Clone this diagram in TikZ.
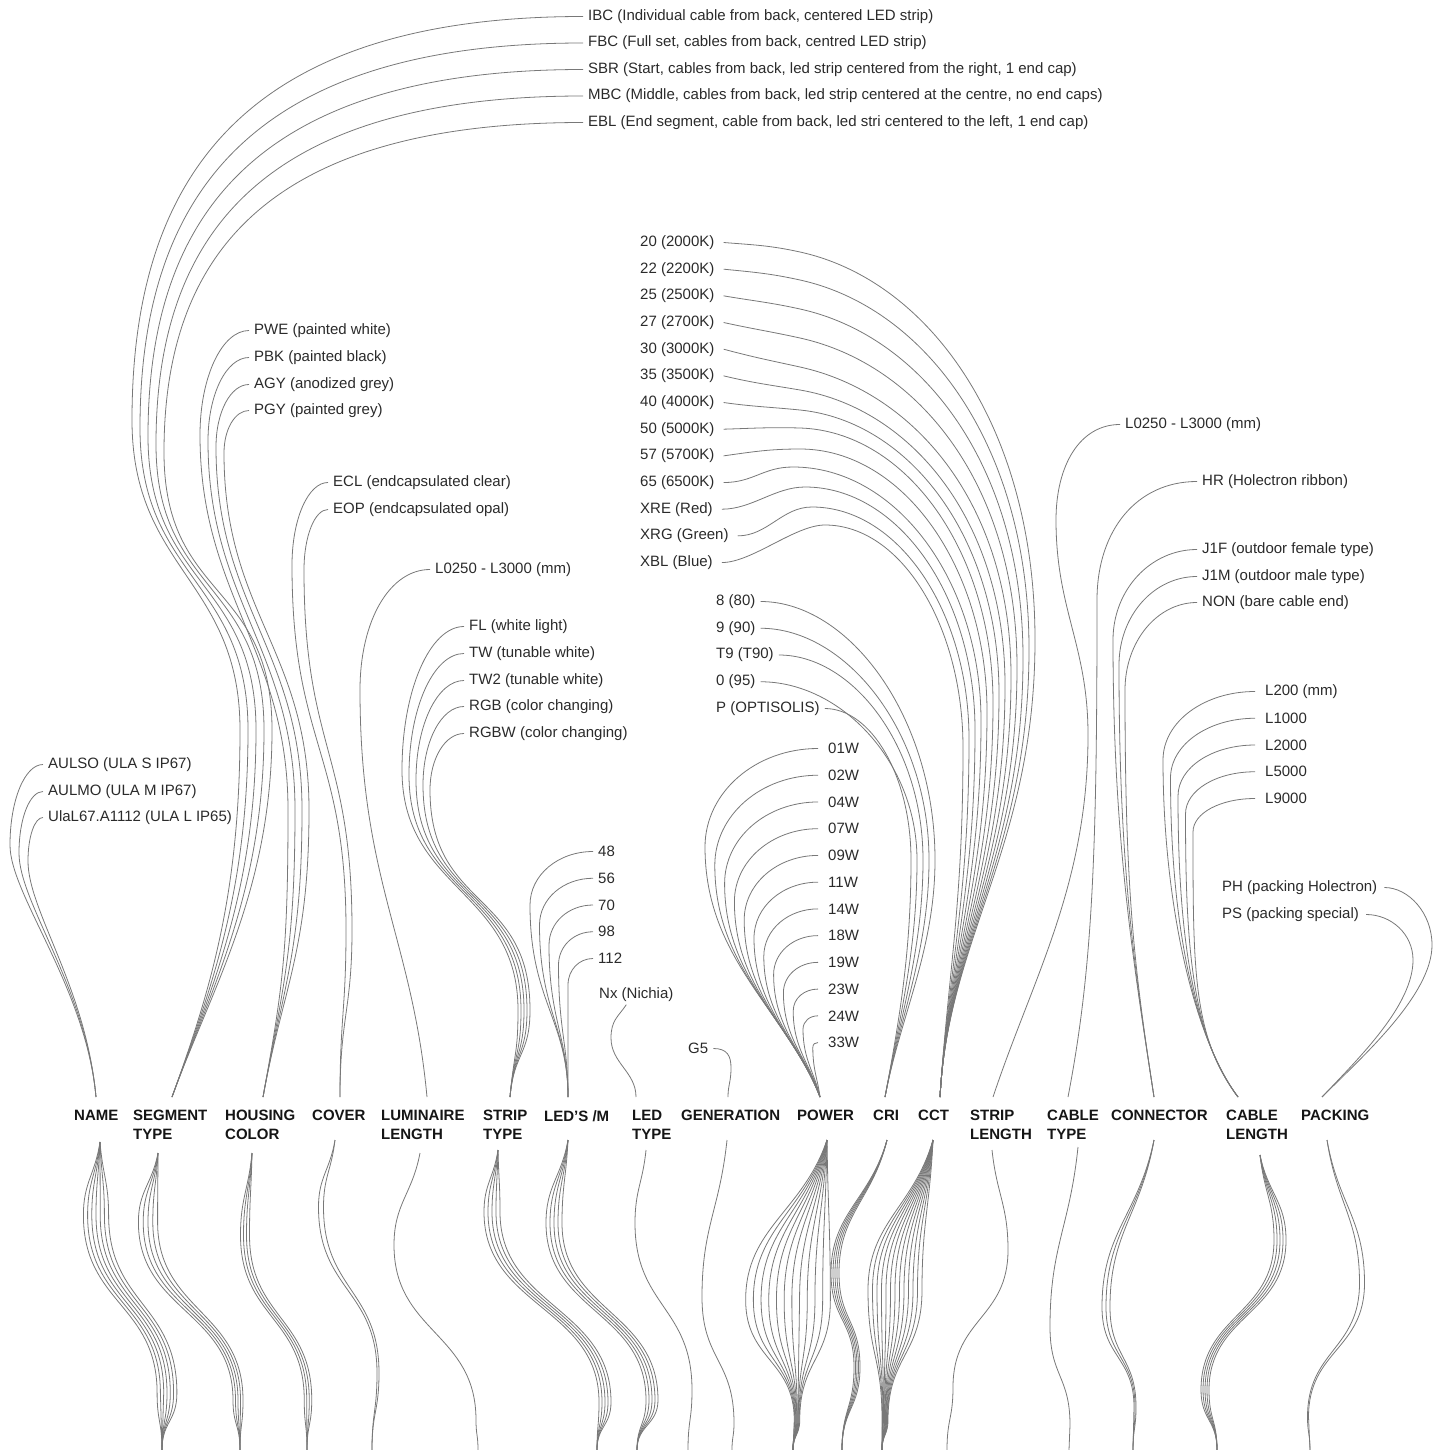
\documentclass[tikz,border=0pt]{standalone}
\usepackage{fontspec}
\setmainfont{Liberation Sans}

\definecolor{wiregray}{HTML}{787878}
\definecolor{labelgray}{HTML}{2A2A2A}
\definecolor{headblack}{HTML}{151515}

\begin{document}
\begin{tikzpicture}[
		x=1pt, y=-1pt,
		wire/.style={draw=wiregray, line width=0.8pt},
		opt/.style={anchor=west, yshift=-1.5pt, inner ysep=3pt, inner xsep=5pt, text=labelgray, font=\fontsize{15}{17}\selectfont},
		head/.style={anchor=north west, inner sep=0pt, align=left, text=headblack, font=\bfseries\fontsize{15}{19}\selectfont}
	]
	\useasboundingbox (0,0) rectangle (1445,1450);

	% column headers
	\node[head] (name) at (74,1110) {NAME};
	\node[head] (seg) at (133,1110) {SEGMENT\\TYPE};
	\node[head] (hou) at (225,1110) {HOUSING\\COLOR};
	\node[head] (cov) at (312,1110) {COVER};
	\node[head] (lum) at (381,1110) {LUMINAIRE\\LENGTH};
	\node[head] (str) at (483,1110) {STRIP\\TYPE};
	\node[head] (led) at (544,1110) {LED’S /M};
	\node[head] (typ) at (632,1110) {LED\\TYPE};
	\node[head] (gen) at (681,1110) {GENERATION};
	\node[head] (pow) at (797,1110) {POWER};
	\node[head] (cri) at (873,1110) {CRI};
	\node[head] (cct) at (918,1110) {CCT};
	\node[head] (slen) at (970,1110) {STRIP\\LENGTH};
	\node[head] (ctyp) at (1047,1110) {CABLE\\TYPE};
	\node[head] (con) at (1111,1110) {CONNECTOR};
	\node[head] (clen) at (1226,1110) {CABLE\\LENGTH};
	\node[head] (pack) at (1301,1110) {PACKING};

	% where the wires meet the headers
	\coordinate (nameIn) at (96,1097);
	\coordinate (segIn) at (172,1097);
	\coordinate (houIn) at (263,1097);
	\coordinate (covIn) at (340,1097);
	\coordinate (lumIn) at (427,1097);
	\coordinate (strIn) at (510,1097);
	\coordinate (ledIn) at (568,1097);
	\coordinate (typIn) at (636,1097);
	\coordinate (genIn) at (728,1097);
	\coordinate (powIn) at (820,1097);
	\coordinate (criIn) at (885,1097);
	\coordinate (cctIn) at (940,1097);
	\coordinate (slenIn) at (993,1097);
	\coordinate (ctypIn) at (1068,1097);
	\coordinate (conIn) at (1154,1097);
	\coordinate (clenIn) at (1238,1097);
	\coordinate (packIn) at (1322,1097);

	% NAME
	\node[opt] (aulso) at (43,763) {AULSO (ULA S IP67)};
	\node[opt] (aulmo) at (43,790) {AULMO (ULA M IP67)};
	\node[opt] (ulal) at (43,816) {UlaL67.A1112 (ULA L IP65)};
	\foreach \n [count=\k from 0] in {aulso,aulmo,ulal} {
		\pgfmathsetmacro\yo{763+26.5*\k}
		\pgfmathsetmacro\xl{10+9*\k}
		\pgfmathsetmacro\yl{845+8*\k}
		\pgfmathsetmacro\ca{-0.55*(43-\xl)}
		\pgfmathsetmacro\cb{-0.55*(\yl-\yo)}
		\draw[wire] (\n.west) .. controls +(\ca,0) and +(0,\cb) .. (\xl,\yl) .. controls +(0,50) and +(-10,-110) .. (nameIn);
	}

	% SEGMENT TYPE
	\node[opt] (ibc) at (583,15) {IBC (Individual cable from back, centered LED strip)};
	\node[opt] (fbc) at (583,41.5) {FBC (Full set, cables from back, centred LED strip)};
	\node[opt] (sbr) at (583,68) {SBR (Start, cables from back, led strip centered from the right, 1 end cap)};
	\node[opt] (mbc) at (583,94.5) {MBC (Middle, cables from back, led strip centered at the centre, no end caps)};
	\node[opt] (ebl) at (583,121) {EBL (End segment, cable from back, led stri centered to the left, 1 end cap)};
	\foreach \n [count=\k from 0] in {ibc,fbc,sbr,mbc,ebl} {
		\pgfmathsetmacro\yo{15+26.5*\k}
		\pgfmathsetmacro\xl{132+8*\k}
		\pgfmathsetmacro\yl{420+8*\k}
		\pgfmathsetmacro\xr{240+8*\k}
		\pgfmathsetmacro\ca{-0.75*(583-\xl)}
		\pgfmathsetmacro\cb{-0.6*(\yl-\yo)}
		\draw[wire] (\n.west) .. controls +(\ca,0) and +(0,\cb) .. (\xl,\yl) .. controls +(0,150) and +(0,-150) .. (\xr,730) .. controls +(0,160) and +(40,-110) .. (segIn);
	}

	% HOUSING COLOR
	\node[opt] (pwe) at (249,329) {PWE (painted white)};
	\node[opt] (pbk) at (249,356) {PBK (painted black)};
	\node[opt] (agy) at (249,383) {AGY (anodized grey)};
	\node[opt] (pgy) at (249,409) {PGY (painted grey)};
	\foreach \n [count=\k from 0] in {pwe,pbk,agy,pgy} {
		\pgfmathsetmacro\yo{329+26.67*\k}
		\pgfmathsetmacro\xl{200+8*\k}
		\pgfmathsetmacro\yl{435+6*\k}
		\pgfmathsetmacro\xr{288+7*\k}
		\pgfmathsetmacro\ca{-0.55*(249-\xl)}
		\pgfmathsetmacro\cb{-0.55*(\yl-\yo)}
		\draw[wire] (\n.west) .. controls +(\ca,0) and +(0,\cb) .. (\xl,\yl) .. controls +(0,160) and +(0,-160) .. (\xr,810) .. controls +(0,140) and +(20,-110) .. (houIn);
	}

	% COVER
	\node[opt] (ecl) at (328,481) {ECL (endcapsulated clear)};
	\node[opt] (eop) at (328,508) {EOP (endcapsulated opal)};
	\foreach \n [count=\k from 0] in {ecl,eop} {
		\pgfmathsetmacro\yo{481+27*\k}
		\pgfmathsetmacro\xl{292+12*\k}
		\pgfmathsetmacro\yl{565+5*\k}
		\pgfmathsetmacro\xr{346+6*\k}
		\pgfmathsetmacro\ca{-0.55*(328-\xl)}
		\pgfmathsetmacro\cb{-0.55*(\yl-\yo)}
		\draw[wire] (\n.west) .. controls +(\ca,0) and +(0,\cb) .. (\xl,\yl) .. controls +(0,180) and +(0,-180) .. (\xr,930) .. controls +(0,80) and +(0,-80) .. (covIn);
	}

	% LUMINAIRE LENGTH
	\node[opt] (lumlen) at (430,568) {L0250 - L3000 (mm)};
	\draw[wire] (lumlen.west) .. controls +(-40,0) and +(0,-70) .. (360,690) .. controls +(0,190) and +(-15,-160) .. (lumIn);

	% STRIP TYPE
	\node[opt] (fl) at (464,625) {FL (white light)};
	\node[opt] (tw) at (464,652) {TW (tunable white)};
	\node[opt] (twtwo) at (464,679) {TW2 (tunable white)};
	\node[opt] (rgb) at (464,705) {RGB (color changing)};
	\node[opt] (rgbw) at (464,732) {RGBW (color changing)};
	\foreach \n [count=\k from 0] in {fl,tw,twtwo,rgb,rgbw} {
		\pgfmathsetmacro\yo{625+26.75*\k}
		\pgfmathsetmacro\xl{402+7*\k}
		\pgfmathsetmacro\yl{770+5*\k}
		\pgfmathsetmacro\xr{518+3*\k}
		\pgfmathsetmacro\ca{-0.55*(464-\xl)}
		\pgfmathsetmacro\cb{-0.55*(\yl-\yo)}
		\draw[wire] (\n.west) .. controls +(\ca,0) and +(0,\cb) .. (\xl,\yl) .. controls +(0,120) and +(0,-120) .. (\xr,1010) .. controls +(0,45) and +(4,-45) .. (strIn);
	}

	% LED'S /M
	\foreach \n/\lbl [count=\k from 0] in {l48/48,l56/56,l70/70,l98/98,l112/112} {
		\node[opt] (\n) at (593,{850+26.75*\k}) {\lbl};
		\pgfmathsetmacro\yo{850+26.75*\k}
		\pgfmathsetmacro\xl{530+9.5*\k}
		\pgfmathsetmacro\yl{905+20*\k}
		\pgfmathsetmacro\ca{-0.55*(593-\xl)}
		\pgfmathsetmacro\cb{-0.55*(\yl-\yo)}
		\pgfmathsetmacro\cc{0.5*(1097-\yl)}
		\pgfmathsetmacro\cd{-0.4*(1097-\yl)}
		\draw[wire] (\n.west) .. controls +(\ca,0) and +(0,\cb) .. (\xl,\yl) .. controls +(0,\cc) and +(0,\cd) .. (ledIn);
	}

	% LED TYPE
	\node[opt] (nx) at (594,993) {Nx (Nichia)};
	\draw[wire] ([xshift=-10pt]nx.south) .. controls +(-8,12) and +(0,-18) .. (611,1038) .. controls +(0,25) and +(0,-25) .. (typIn);

	% GENERATION
	\node[opt] (gfive) at (683,1047) {G5};
	\draw[wire] (gfive.east) .. controls +(14,0) and +(0,-12) .. (731,1068) .. controls +(0,14) and +(0,-12) .. (genIn);

	% POWER
	\foreach \n/\lbl [count=\k from 0] in {w01/01W,w02/02W,w04/04W,w07/07W,w09/09W,w11/11W,w14/14W,w18/18W,w19/19W,w23/23W,w24/24W,w33/33W} {
		\node[opt, inner xsep=10pt] (\n) at (818,{747+26.73*\k}) {\lbl};
		\pgfmathsetmacro\yo{747+26.73*\k}
		\pgfmathsetmacro\xl{705+9.8*\k}
		\pgfmathsetmacro\yl{\yo+100-8.5*\k}
		\pgfmathsetmacro\ca{-0.55*(818-\xl)}
		\pgfmathsetmacro\cb{-0.55*(\yl-\yo)}
		\pgfmathsetmacro\cc{0.45*(1097-\yl)}
		\pgfmathsetmacro\cd{-0.3*(820-\xl)}
		\pgfmathsetmacro\ce{-0.35*(1097-\yl)}
		\draw[wire] (\n.west) .. controls +(\ca,0) and +(0,\cb) .. (\xl,\yl) .. controls +(0,\cc) and +(\cd,\ce) .. (powIn);
	}

	% CRI
	\foreach \n/\lbl/\xe [count=\k from 0] in {c80/8 (80)/758,c90/9 (90)/758,t90/T9 (T90)/775,c95/0 (95)/758,copt/P (OPTISOLIS)/818} {
		\node[opt] (\n) at (711,{600+26.75*\k}) {\lbl};
		\pgfmathsetmacro\yo{600+26.75*\k}
		\pgfmathsetmacro\xr{935-6*\k}
		\pgfmathsetmacro\ca{0.5*(\xr-\xe)}
		\pgfmathsetmacro\cb{-0.55*(860-\yo)}
		\draw[wire] (\n.east) .. controls +(\ca,0) and +(0,\cb) .. (\xr,860) .. controls +(0,90) and +(15,-80) .. (criIn);
	}

	% CCT
	\foreach \n/\lbl [count=\k from 0] in {k20/20 (2000K),k22/22 (2200K),k25/25 (2500K),k27/27 (2700K),k30/30 (3000K),k35/35 (3500K),k40/40 (4000K),k50/50 (5000K),k57/57 (5700K),k65/65 (6500K),xre/XRE (Red),xrg/XRG (Green),xbl/XBL (Blue)} {
		\node[opt, inner xsep=9pt] (\n) at (631,{241+26.67*\k}) {\lbl};
	}
	\foreach \n/\xc/\yc/\m/\s [count=\k from 0] in {k20/800/252/0.22/0.08,k22/800/280/0.22/0.1,k25/800/309/0.22/0.17,k27/800/338/0.22/0.22,k30/800/367/0.22/0.27,k35/800/390/0.17/0.24,k40/800/410/0.1/0.14,k50/800/428/0.03/-0.03,k57/800/449/0/-0.14,k65/793/467/0/0,xre/805/487/0/0,xrg/812/507/0/0,xbl/825/525/0/0} {
		\pgfmathsetmacro\xr{1035-6*\k}
		\pgfmathsetmacro\yr{640+9*\k}
		\pgfmathsetmacro\so{30*\s}
		\pgfmathsetmacro\sm{-30*\m}
		\pgfmathsetmacro\ca{0.55*(\xr-\xc)}
		\pgfmathsetmacro\cm{\ca*\m}
		\pgfmathsetmacro\cb{-0.55*(\yr-\yc)}
		\pgfmathsetmacro\cc{0.45*(1097-\yr)}
		\pgfmathsetmacro\cd{-0.35*(1097-\yr)}
		\draw[wire] (\n.east) .. controls +(30,\so) and +(-30,\sm) .. (\xc,\yc) .. controls +(\ca,\cm) and +(0,\cb) .. (\xr,\yr) .. controls +(0,\cc) and +(8,\cd) .. (cctIn);
	}

	% STRIP LENGTH
	\node[opt] (striplen) at (1120,423) {L0250 - L3000 (mm)};
	\draw[wire] (striplen.west) .. controls +(-40,0) and +(0,-55) .. (1056,520) .. controls +(0,90) and +(0,-90) .. (1088,735) .. controls +(0,150) and +(40,-120) .. (slenIn);

	% CABLE TYPE
	\node[opt] (hr) at (1197,480) {HR (Holectron ribbon)};
	\draw[wire] (hr.west) .. controls +(-60,0) and +(0,-70) .. (1097,600) .. controls +(0,250) and +(25,-130) .. (ctypIn);

	% CONNECTOR
	\node[opt] (jif) at (1197,548) {J1F (outdoor female type)};
	\node[opt] (jim) at (1197,575) {J1M (outdoor male type)};
	\node[opt] (non) at (1197,601) {NON (bare cable end)};
	\foreach \n [count=\k from 0] in {jif,jim,non} {
		\pgfmathsetmacro\yo{548+26.5*\k}
		\pgfmathsetmacro\xl{1113+6*\k}
		\pgfmathsetmacro\yl{640+25*\k}
		\pgfmathsetmacro\ca{-0.55*(1197-\xl)}
		\pgfmathsetmacro\cb{-0.55*(\yl-\yo)}
		\draw[wire] (\n.west) .. controls +(\ca,0) and +(0,\cb) .. (\xl,\yl) .. controls +(0,200) and +(-20,-130) .. (conIn);
	}

	% CABLE LENGTH
	\foreach \n/\lbl [count=\k from 0] in {ltwo/L200 (mm),lone/L1000,ltwok/L2000,lfive/L5000,lnine/L9000} {
		\node[opt, inner xsep=10pt] (\n) at (1255,{690+26.75*\k}) {\lbl};
		\pgfmathsetmacro\yo{690+26.75*\k}
		\pgfmathsetmacro\xl{1163+7.5*\k}
		\pgfmathsetmacro\yl{760+18*\k}
		\pgfmathsetmacro\ca{-0.55*(1255-\xl)}
		\pgfmathsetmacro\cb{-0.55*(\yl-\yo)}
		\draw[wire] (\n.west) .. controls +(\ca,0) and +(0,\cb) .. (\xl,\yl) .. controls +(0,140) and +(-45,-60) .. (clenIn);
	}

	% PACKING
	\node[opt, inner xsep=7pt] (ph) at (1215,886) {PH (packing Holectron)};
	\node[opt, inner xsep=7pt] (ps) at (1215,913) {PS (packing special)};
	\draw[wire] (ph.east) .. controls +(24,0) and +(0,-32) .. (1432,945) .. controls +(0,50) and +(40,-40) .. (packIn);
	\draw[wire] (ps.east) .. controls +(25,0) and +(0,-26) .. (1413,960) .. controls +(0,45) and +(38,-40) .. (packIn);

	% wires leaving the headers downwards
	\foreach \cn/\xs/\ys/\xa/\ya/\sa/\xb/\yb/\sb/\xe/\cnt in {
			nameOut/100/1142/96/1215/4.2/167/1393/3.3/162/6,
			segOut/158/1153/148/1222/4.8/238/1400/2.5/240/4,
			houOut/252/1153/245/1235/3/308/1400/2.5/307/3,
			covOut/335/1140/321/1207/5/378/1373/2/372/1,
			lumOut/420/1153/394/1245/0/476/1420/0/478/0,
			strOut/498/1150/492/1212/4/605/1402/3/597/4,
			ledOut/568/1140/554/1223/4/652/1400/3/637/4,
			typOut/646/1150/635/1223/0/692/1390/0/688/0,
			genOut/727/1140/702/1297/0/734/1423/0/732/0,
			powOut/827/1140/788/1300/7.7/797/1420/0.5/793/11,
			criOut/887/1140/835/1273/2/857/1367/1.5/842/4,
			cctOut/933/1140/895/1290/4.5/885/1420/0.5/882/12,
			slenOut/992/1150/1008/1250/0/953/1387/0/947/0,
			ctypOut/1078/1147/1050/1327/0/1070/1425/0/1069/0,
			conOut/1154/1140/1106/1307/4/1135/1407/1/1133/2,
			clenOut/1260/1155/1280/1240/3/1205/1390/2/1217/4,
			packOut/1327/1140/1362/1283/5/1308/1417/1/1310/1} {
		\coordinate (\cn) at (\xs,\ys);
		\coordinate (\cn End) at (\xe,1450);
		\foreach \j in {0,...,\cnt} {
			\pgfmathsetmacro\xp{\xa+(\j-\cnt/2)*\sa}
			\pgfmathsetmacro\xq{\xb+(\j-\cnt/2)*\sb}
			\pgfmathsetmacro\ha{0.3*(\xp-\xs)}
			\pgfmathsetmacro\hb{0.45*(\ya-\ys)}
			\pgfmathsetmacro\hc{0.5*(\yb-\ya)}
			\pgfmathsetmacro\hd{0.5*(1450-\yb)}
			\draw[wire] (\cn) .. controls +(\ha,\hb) and +(0,-\hb) .. (\xp,\ya) .. controls +(0,\hc) and +(0,-\hc) .. (\xq,\yb) .. controls +(0,\hd) and +(0,-\hd) .. (\cn End);
		}
	}
\end{tikzpicture}
\end{document}
